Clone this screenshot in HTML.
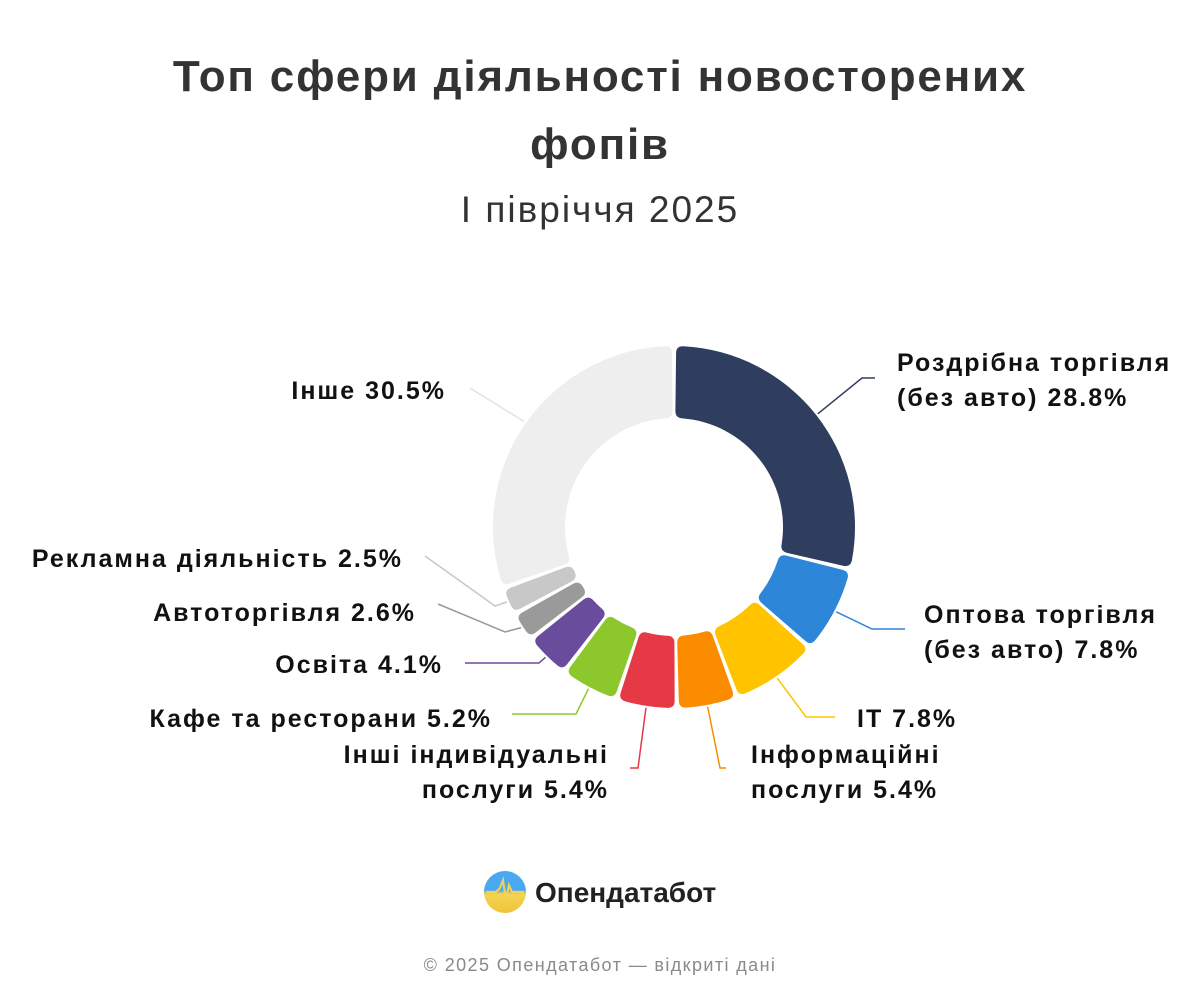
<!DOCTYPE html>
<html><head><meta charset="utf-8"><style>
html,body{margin:0;padding:0;background:#fff;}
body{width:1200px;height:1000px;overflow:hidden;font-family:"Liberation Sans",sans-serif;}
</style></head><body>
<svg id="chart" width="1200" height="1000" viewBox="0 0 1200 1000" xmlns="http://www.w3.org/2000/svg" font-family="Liberation Sans, sans-serif">
<text x="600" y="91" text-anchor="middle" font-size="44" font-weight="bold" fill="#333" letter-spacing="1.8">Топ сфери діяльності новосторених</text>
<text x="600" y="159" text-anchor="middle" font-size="44" font-weight="bold" fill="#333" letter-spacing="1.8">фопів</text>
<text x="600" y="222" text-anchor="middle" font-size="37" fill="#333" letter-spacing="2">І півріччя 2025</text>
<g id="slices"></g>
<g id="labels"></g>
<g>
<defs><linearGradient id="lg" x1="0" y1="0" x2="0" y2="1"><stop offset="0.45" stop-color="#4aa8f0"/><stop offset="0.55" stop-color="#f5d352"/><stop offset="1" stop-color="#f0c43a"/></linearGradient></defs>
<circle cx="505" cy="892" r="21" fill="url(#lg)"/>
<polyline points="486,892 496,892 500,888 503,880 506,900 509,885 512,892 524,892" fill="none" stroke="#f5d352" stroke-width="2"/>
<text x="535" y="902" font-size="28" font-weight="bold" fill="#222">Опендатабот</text>
</g>
<text x="600" y="971" text-anchor="middle" font-size="18" fill="#8a8a8a" letter-spacing="1.4">© 2025 Опендатабот — відкриті дані</text>
</svg>
<script>
const categories = ["Роздрібна торгівля (без авто)","Оптова торгівля (без авто)","IT","Інформаційні послуги","Інші індивідуальні послуги","Кафе та ресторани","Освіта","Автоторгівля","Рекламна діяльність","Інше"];
const values = [28.8,7.8,7.8,5.4,5.4,5.2,4.1,2.6,2.5,30.5];
const colors = ["#2f3d5e","#2e86d9","#ffc300","#fb8c00","#e53945","#8cc82b","#6a4c9c","#9a9a9a","#c8c8c8","#eeeeee"];
const lineColors = ["#2f3d5e","#2e86d9","#ffc300","#fb8c00","#e53945","#8cc82b","#6a4c9c","#9a9a9a","#c8c8c8","#e2e2e2"];
const layout = [
 {lines:["Роздрібна торгівля","(без авто) 28.8%"],anchor:"start",x:897,y:371,elbow:[862,378],end:[875,378]},
 {lines:["Оптова торгівля","(без авто) 7.8%"],anchor:"start",x:924,y:623,elbow:[872,629],end:[905,629]},
 {lines:["IT 7.8%"],anchor:"start",x:857,y:727,elbow:[806,717],end:[835,717]},
 {lines:["Інформаційні","послуги 5.4%"],anchor:"start",x:751,y:763,elbow:[720,768],end:[726,768]},
 {lines:["Інші індивідуальні","послуги 5.4%"],anchor:"end",x:609,y:763,elbow:[638,768],end:[630,768]},
 {lines:["Кафе та ресторани 5.2%"],anchor:"end",x:492,y:727,elbow:[576,714],end:[512,714]},
 {lines:["Освіта 4.1%"],anchor:"end",x:443,y:673,elbow:[539,663],end:[465,663]},
 {lines:["Автоторгівля 2.6%"],anchor:"end",x:416,y:621,elbow:[505,632],end:[438,604]},
 {lines:["Рекламна діяльність 2.5%"],anchor:"end",x:403,y:567,elbow:[495,606],end:[425,556]},
 {lines:["Інше 30.5%"],anchor:"end",x:446,y:399,elbow:[470,388],end:[470,388]}
];
const NS="http://www.w3.org/2000/svg";
const cx=674, cy=527, R=181, r=109, pad=0.012;
const total=values.reduce((a,b)=>a+b,0);
function pt(rad,a){return [cx+rad*Math.sin(a), cy-rad*Math.cos(a)];}
function angleScale(v){return v/total*2*Math.PI;}
const sg=document.getElementById('slices'), lg=document.getElementById('labels');
let a0=0;
values.forEach((v,i)=>{
  const a1=a0+angleScale(v);
  const s=a0+pad, e=a1-pad;
  const cr=7;
  const dO=cr/R, dI=cr/r;
  const large=(e-s)>Math.PI?1:0;
  const p1=pt(R-cr,s), p2=pt(R,s+dO), p3=pt(R,e-dO), p4=pt(R-cr,e), p5=pt(r+cr,e), p6=pt(r,e-dI), p7=pt(r,s+dI), p8=pt(r+cr,s);
  const c1=pt(R,s), c2=pt(R,e), c3=pt(r,e), c4=pt(r,s);
  const d=`M${p1} Q${c1} ${p2} A${R},${R} 0 ${large} 1 ${p3} Q${c2} ${p4} L${p5} Q${c3} ${p6} A${r},${r} 0 ${large} 0 ${p7} Q${c4} ${p8} Z`;
  const path=document.createElementNS(NS,'path');
  path.setAttribute('d',d);
  path.setAttribute('fill',colors[i]);
  
  
  sg.appendChild(path);
  const m=(a0+a1)/2;
  const st=pt(R+2,m);
  const L=layout[i];
  const pl=document.createElementNS(NS,'polyline');
  pl.setAttribute('points',`${st} ${L.elbow} ${L.end}`);
  pl.setAttribute('fill','none');
  pl.setAttribute('stroke',lineColors[i]);
  pl.setAttribute('stroke-width','1.5');
  
  
  lg.appendChild(pl);
  const t=document.createElementNS(NS,'text');
  t.setAttribute('x',L.x); t.setAttribute('y',L.y);
  t.setAttribute('text-anchor',L.anchor);
  t.setAttribute('font-size','25'); t.setAttribute('font-weight','bold'); t.setAttribute('fill','#111');
  t.setAttribute('letter-spacing','2');
  
  
  L.lines.forEach((ln,j)=>{const ts=document.createElementNS(NS,'tspan');ts.setAttribute('x',L.x);ts.setAttribute('dy',j?35:0);ts.textContent=ln;t.appendChild(ts);});
  lg.appendChild(t);
  a0=a1;
});
</script>
</body></html>
